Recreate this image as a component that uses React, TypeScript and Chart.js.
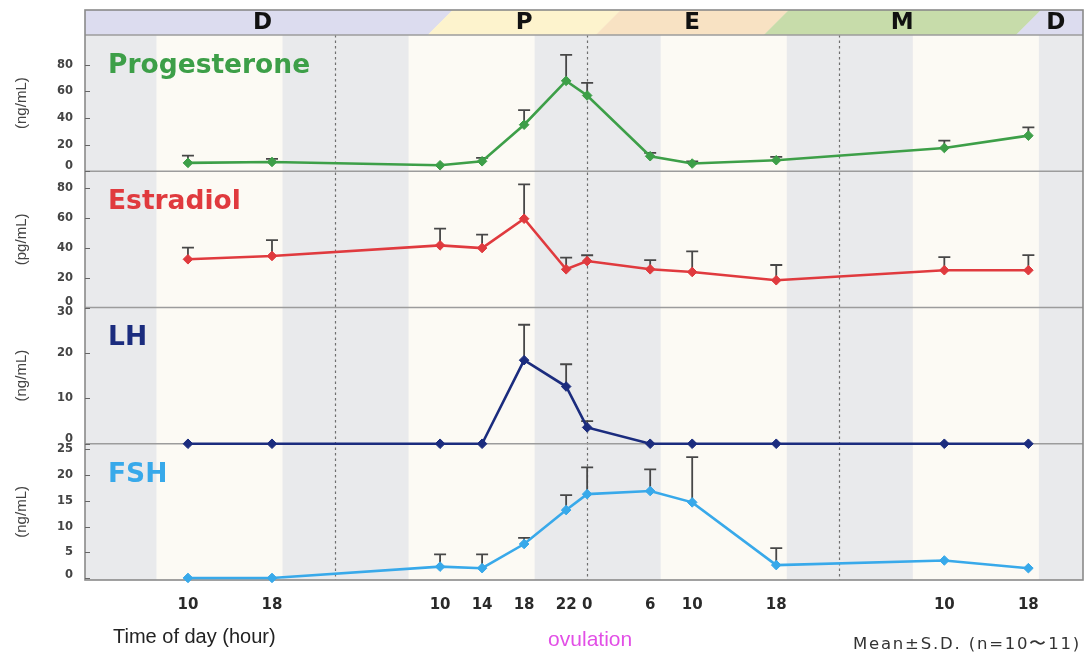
import React, { useEffect, useRef } from 'react';
import { Chart, registerables } from 'chart.js';

Chart.register(...registerables);

// ---- data ----
const sampleHours = [10, 18, 34, 38, 42, 46, 48, 54, 58, 66, 82, 90];
const xTickLabels = ['10', '18', '10', '14', '18', '22', '0', '6', '10', '18', '10', '18'];

const progesteroneMean = [6.3, 7, 4.5, 7.5, 35, 68, 57, 11.3, 5.8, 8.3, 17.5, 26.8];
const progesteroneSD = [5.5, 2.3, 0, 2.5, 11, 19.5, 9.5, 2.5, 1.7, 2.5, 5.5, 6.2];
const estradiolMean = [32.2, 34.4, 41.5, 39.7, 59.3, 25.5, 31, 25.5, 23.7, 18.2, 24.9, 24.9];
const estradiolSD = [7.8, 10.6, 11.2, 9, 22.9, 7.8, 3.9, 6.2, 13.8, 10.2, 8.8, 10.1];
const lhMean = [0, 0, 0, 0, 18.4, 12.6, 3.6, 0, 0, 0, 0, 0];
const lhSD = [0, 0, 0, 0, 7.8, 4.9, 1.4, 0, 0, 0, 0, 0];
const fshMean = [0, 0, 2.2, 1.9, 6.6, 13.2, 16.3, 16.9, 14.7, 2.5, 3.4, 1.9];
const fshSD = [0, 0, 2.4, 2.7, 1.2, 2.9, 5.2, 4.2, 8.8, 3.3, 0, 0];

const progesteroneTicks = [0, 20, 40, 60, 80];
const estradiolTicks = [0, 20, 40, 60, 80];
const lhTicks = [0, 10, 20, 30];
const fshTicks = [0, 5, 10, 15, 20, 25];

const phaseNames = ['D', 'P', 'E', 'M', 'D'];
const phaseColors = ['#dcdcef', '#fdf3cd', '#f8e2c3', '#c7dcaa', '#dcdcef'];
const phaseBoundaries = [34, 50, 66, 90];
const midnightHours = [24, 48, 72];
const darkStarts = [-5, 19, 43, 67, 91];
const darkEnds = [7, 31, 55, 79, 103];
const ovulationHour = 48;

const panels = [
  { id: 'yProg', name: 'Progesterone', unit: '(ng/mL)', color: '#3d9f48', mean: progesteroneMean, sd: progesteroneSD, ticks: progesteroneTicks, min: 0, max: 102.5 },
  { id: 'yEst', name: 'Estradiol', unit: '(pg/mL)', color: '#e03a3e', mean: estradiolMean, sd: estradiolSD, ticks: estradiolTicks, min: 0, max: 91 },
  { id: 'yLH', name: 'LH', unit: '(ng/mL)', color: '#1b2c7e', mean: lhMean, sd: lhSD, ticks: lhTicks, min: 0, max: 30 },
  { id: 'yFSH', name: 'FSH', unit: '(ng/mL)', color: '#38a9ea', mean: fshMean, sd: fshSD, ticks: fshTicks, min: -0.4, max: 26.1 },
];

const HEADER_H = 25;

const decorPlugin = {
  id: 'decor',
  beforeDatasetsDraw(chart: any) {
    const { ctx, chartArea: ca, scales } = chart;
    const xs = scales.x;
    const px = (h: number) => xs.getPixelForValue(h);
    ctx.save();
    // light / dark bands
    ctx.fillStyle = '#fcfaf4';
    ctx.fillRect(ca.left, ca.top, ca.width, ca.height);
    ctx.fillStyle = '#e9eaec';
    darkStarts.forEach((s, i) => {
      const x0 = Math.max(ca.left, px(s));
      const x1 = Math.min(ca.right, px(darkEnds[i]));
      if (x1 > x0) ctx.fillRect(x0, ca.top, x1 - x0, ca.height);
    });
    // header phases
    const hTop = ca.top - HEADER_H;
    const hBot = ca.top;
    const slant = HEADER_H / 2;
    const bounds = [xs.min, ...phaseBoundaries, xs.max];
    ctx.save();
    ctx.beginPath();
    ctx.rect(ca.left, hTop, ca.width, HEADER_H);
    ctx.clip();
    phaseNames.forEach((_, i) => {
      let l = px(bounds[i]);
      let r = px(bounds[i + 1]);
      if (i === 0) l -= 40;
      if (i === phaseNames.length - 1) r += 40;
      ctx.fillStyle = phaseColors[i];
      ctx.beginPath();
      ctx.moveTo(l - slant, hBot);
      ctx.lineTo(l + slant, hTop);
      ctx.lineTo(r + slant + 0.5, hTop);
      ctx.lineTo(r - slant + 0.5, hBot);
      ctx.closePath();
      ctx.fill();
    });
    ctx.restore();
    ctx.fillStyle = '#111';
    ctx.font = 'bold 23px "DejaVu Sans"';
    ctx.textAlign = 'center';
    ctx.textBaseline = 'middle';
    phaseNames.forEach((name, i) => {
      const cx = (px(bounds[i]) + px(bounds[i + 1])) / 2;
      ctx.fillText(name, cx, (hTop + hBot) / 2 + 1);
    });
    // midnight dashed lines
    ctx.strokeStyle = '#6f6f6f';
    ctx.lineWidth = 1.2;
    ctx.setLineDash([2.5, 3]);
    midnightHours.forEach((h) => {
      const x = Math.round(px(h)) + 0.5;
      ctx.beginPath();
      ctx.moveTo(x, ca.top);
      ctx.lineTo(x, ca.bottom);
      ctx.stroke();
    });
    ctx.setLineDash([]);
    // separators
    ctx.strokeStyle = '#9c9c9c';
    ctx.lineWidth = 1.5;
    panels.forEach((p, i) => {
      const s = scales[p.id];
      if (i < panels.length - 1) {
        ctx.beginPath();
        ctx.moveTo(ca.left, s.bottom);
        ctx.lineTo(ca.right, s.bottom);
        ctx.stroke();
      }
    });
    ctx.beginPath();
    ctx.moveTo(ca.left, hBot);
    ctx.lineTo(ca.right, hBot);
    ctx.stroke();
    // outer border
    ctx.strokeStyle = '#8a8a8a';
    ctx.lineWidth = 1.6;
    ctx.strokeRect(ca.left, hTop, ca.width, ca.bottom - hTop);
    // error bars
    ctx.strokeStyle = '#474747';
    ctx.lineWidth = 1.8;
    panels.forEach((p) => {
      const s = scales[p.id];
      sampleHours.forEach((h, i) => {
        const sd = p.sd[i];
        if (!sd) return;
        const x = px(h);
        const y0 = s.getPixelForValue(p.mean[i]);
        const y1 = s.getPixelForValue(p.mean[i] + sd);
        ctx.beginPath();
        ctx.moveTo(x, y0);
        ctx.lineTo(x, y1);
        ctx.moveTo(x - 6, y1);
        ctx.lineTo(x + 6, y1);
        ctx.stroke();
      });
    });
    ctx.restore();
  },
  afterDraw(chart: any) {
    const { ctx, chartArea: ca, scales } = chart;
    const xs = scales.x;
    ctx.save();
    // y tick labels and inner ticks
    ctx.font = 'bold 11.5px "DejaVu Sans"';
    ctx.fillStyle = '#444';
    ctx.textAlign = 'right';
    ctx.textBaseline = 'middle';
    ctx.strokeStyle = '#666';
    ctx.lineWidth = 1;
    panels.forEach((p) => {
      const s = scales[p.id];
      p.ticks.forEach((v) => {
        const yv = s.getPixelForValue(v);
        const y = Math.min(Math.max(yv, s.top + 5), s.bottom - 5);
        ctx.fillText(String(v), ca.left - 12, y);
        ctx.beginPath();
        ctx.moveTo(ca.left, Math.round(yv) + 0.5);
        ctx.lineTo(ca.left + 5, Math.round(yv) + 0.5);
        ctx.stroke();
      });
    });
    // panel titles
    ctx.font = 'bold 26.5px "DejaVu Sans"';
    ctx.textAlign = 'left';
    panels.forEach((p) => {
      const s = scales[p.id];
      ctx.fillStyle = p.color;
      ctx.fillText(p.name, ca.left + 23, s.top + 31);
    });
    // annotations
    ctx.fillStyle = '#222';
    ctx.font = '20px "Liberation Sans"';
    ctx.textAlign = 'left';
    ctx.fillText('Time of day (hour)', 113, 637);
    ctx.fillStyle = '#e24fe6';
    ctx.font = '21px "Liberation Sans"';
    ctx.textAlign = 'center';
    ctx.fillText('ovulation', xs.getPixelForValue(ovulationHour) + 3, 640);
    ctx.fillStyle = '#333';
    ctx.font = '16.5px "DejaVu Sans"';
    ctx.textAlign = 'right';
    (ctx as any).letterSpacing = '1.8px';
    ctx.fillText('Mean±S.D. (n=10〜11)', 1081, 645);
    ctx.restore();
  },
};

export default function App() {
  const ref = useRef<HTMLCanvasElement | null>(null);
  useEffect(() => {
    document.body.style.margin = '0';
    if (!ref.current) return;
    const scales: any = {
      x: {
        type: 'linear',
        min: 0.2,
        max: 95.2,
        afterBuildTicks: (s: any) => {
          s.ticks = sampleHours.map((v) => ({ value: v }));
        },
        afterFit: (s: any) => {
          s.height = 77;
        },
        grid: { display: false, drawTicks: false },
        border: { display: false },
        ticks: {
          autoSkip: false,
          maxRotation: 0,
          padding: 16,
          color: '#2a2a2a',
          font: { family: 'DejaVu Sans', weight: 'bold', size: 15 },
          callback: (v: any) => {
            const i = sampleHours.indexOf(Number(v));
            return i >= 0 ? xTickLabels[i] : '';
          },
        },
      },
    };
    // stacked axes are laid out last-defined on top, so define bottom panel first
    [...panels].reverse().forEach((p) => {
      scales[p.id] = {
        type: 'linear',
        position: 'left',
        stack: 'hormones',
        stackWeight: 1,
        min: p.min,
        max: p.max,
        afterBuildTicks: (s: any) => {
          s.ticks = p.ticks.map((v) => ({ value: v }));
        },
        afterFit: (s: any) => {
          s.width = 85;
        },
        ticks: { display: false },
        grid: { display: false, drawTicks: false },
        border: { display: false },
        title: {
          display: true,
          text: p.unit,
          color: '#444',
          font: { family: 'Liberation Sans', size: 15 },
          padding: { top: 13, bottom: 0 },
        },
      };
    });
    const chart = new Chart(ref.current, {
      type: 'line',
      data: {
        datasets: panels.map((p) => ({
          label: p.name,
          yAxisID: p.id,
          data: sampleHours.map((h, i) => ({ x: h, y: p.mean[i] })),
          borderColor: p.color,
          backgroundColor: p.color,
          borderWidth: 2.6,
          pointStyle: 'rectRot',
          pointRadius: 4.8,
          pointBackgroundColor: p.color,
          pointBorderColor: p.color,
          pointBorderWidth: 1,
          tension: 0,
          clip: false as any,
        })),
      },
      options: {
        animation: false,
        responsive: false,
        layout: { padding: { top: 35, right: 7, left: 0, bottom: 0 } },
        scales,
        plugins: {
          legend: { display: false },
          tooltip: { enabled: false },
          title: { display: false },
        },
      } as any,
      plugins: [decorPlugin],
    });
    return () => chart.destroy();
  }, []);
  return (
    <div style={{ width: 1090, height: 657, background: '#fff' }}>
      <canvas ref={ref} width={1090} height={657} style={{ display: 'block' }} />
    </div>
  );
}
